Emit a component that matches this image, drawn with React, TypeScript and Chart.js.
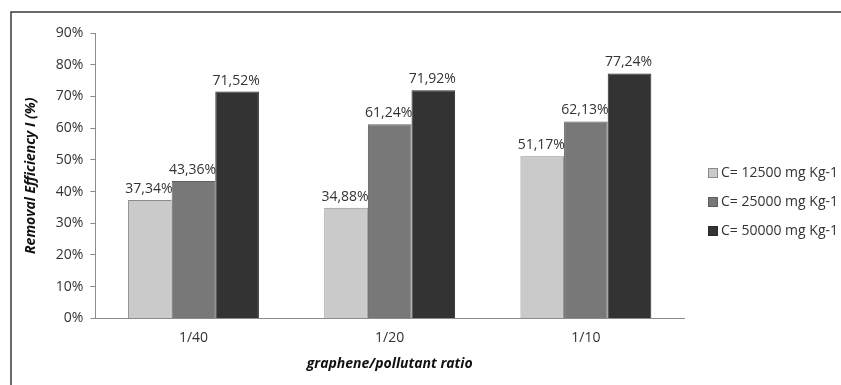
import React, { useEffect, useRef } from "react";
import { Chart, registerables } from "chart.js";

Chart.register(...registerables);

const categories = ["1/40", "1/20", "1/10"];
const seriesLabels = ["C= 12500 mg Kg-1", "C= 25000 mg Kg-1", "C= 50000 mg Kg-1"];
const series12500 = [37.34, 34.88, 51.17];
const series25000 = [43.36, 61.24, 62.13];
const series50000 = [71.52, 71.92, 77.24];
const fillColors = ["#cacaca", "#787878", "#333333"];
const edgeColors = ["#8a8a8a", "#5e5e5e", "#2a2a2a"];

const FONT = "'Open Sans', 'Noto Sans', sans-serif";
const TEXT = "#333333";

const fmt = (v: number) => v.toFixed(2).replace(".", ",") + "%";

// Value labels above each bar
const valueLabels = {
  id: "valueLabels",
  afterDatasetsDraw(chart: any) {
    const ctx = chart.ctx;
    ctx.save();
    ctx.font = `14px ${FONT}`;
    ctx.fillStyle = TEXT;
    ctx.textAlign = "center";
    ctx.textBaseline = "bottom";
    chart.data.datasets.forEach((ds: any, i: number) => {
      const meta = chart.getDatasetMeta(i);
      meta.data.forEach((bar: any, j: number) => {
        ctx.fillText(fmt(ds.data[j]), bar.x - 1, bar.y - 4);
      });
    });
    ctx.restore();
  },
};

// Outer frame and legend at the right
const frameAndLegend = {
  id: "frameAndLegend",
  afterDraw(chart: any) {
    const ctx = chart.ctx;
    ctx.save();
    ctx.strokeStyle = "#3a3a3a";
    ctx.lineWidth = 1.5;
    ctx.beginPath();
    ctx.moveTo(11, chart.height + 2);
    ctx.lineTo(11, 12);
    ctx.lineTo(chart.width + 2, 12);
    ctx.stroke();

    ctx.font = `14px ${FONT}`;
    ctx.textBaseline = "middle";
    ctx.textAlign = "left";
    const x0 = chart.chartArea.right + 24;
    const y0 = 173;
    chart.data.datasets.forEach((ds: any, i: number) => {
      const y = y0 + i * 29;
      ctx.fillStyle = ds.backgroundColor;
      ctx.fillRect(x0 + 0.5, y - 4.5, 9, 9);
      ctx.strokeStyle = ds.borderColor;
      ctx.lineWidth = 1;
      ctx.strokeRect(x0 + 0.5, y - 4.5, 9, 9);
      ctx.fillStyle = TEXT;
      ctx.fillText(ds.label, x0 + 13, y);
    });
    ctx.restore();
  },
};

export default function App() {
  const ref = useRef<HTMLCanvasElement>(null);

  useEffect(() => {
    const values = [series12500, series25000, series50000];
    const chart = new Chart(ref.current!, {
      type: "bar",
      data: {
        labels: categories,
        datasets: values.map((d, i) => ({
          label: seriesLabels[i],
          data: d,
          backgroundColor: fillColors[i],
          borderColor: edgeColors[i],
          borderWidth: 1,
          barPercentage: 1,
          categoryPercentage: 0.667,
        })),
      },
      options: {
        animation: false,
        responsive: false,
        maintainAspectRatio: false,
        layout: { padding: { top: 33, right: 157, bottom: 13, left: 20 } },
        plugins: {
          legend: { display: false },
          tooltip: { enabled: false },
        },
        scales: {
          x: {
            grid: { display: false, drawTicks: false },
            border: { display: true, color: "#8c8c8c", width: 1 },
            ticks: { color: TEXT, font: { family: FONT, size: 14 }, padding: 11 },
            title: {
              display: true,
              text: "graphene/pollutant ratio",
              color: "#111111",
              font: { family: FONT, size: 14, weight: "bold", style: "italic" },
              padding: { top: -2, bottom: 0 },
            },
          },
          y: {
            min: 0,
            max: 90,
            grid: {
              display: true,
              drawOnChartArea: false,
              drawTicks: true,
              tickLength: 5,
              color: "#8c8c8c",
            },
            border: { display: true, color: "#8c8c8c", width: 1 },
            ticks: {
              stepSize: 10,
              color: TEXT,
              font: { family: FONT, size: 14 },
              padding: 7,
              callback: (v: any) => v + "%",
            },
            title: {
              display: true,
              text: "Removal Efficiency I (%)",
              color: "#111111",
              font: { family: FONT, size: 14, weight: "bold", style: "italic" },
              padding: { top: 3, bottom: 9 },
            },
          },
        },
      },
      plugins: [valueLabels, frameAndLegend],
    });
    return () => chart.destroy();
  }, []);

  return (
    <div style={{ position: "fixed", left: 0, top: 0, width: 841, height: 385, background: "#fff" }}>
      <canvas ref={ref} width={841} height={385} style={{ display: "block" }} />
    </div>
  );
}
